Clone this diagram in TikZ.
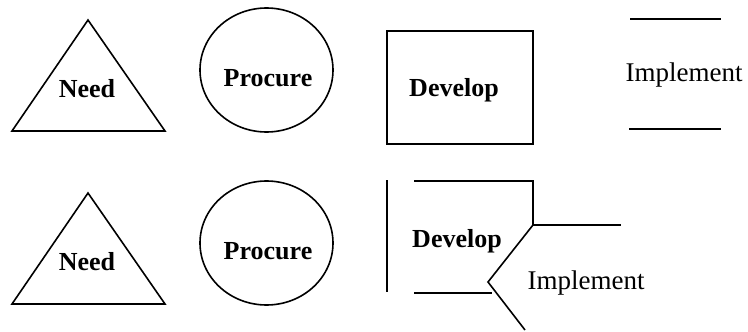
\documentclass[tikz,border=0pt]{standalone}
\usepackage{fontspec}
\setmainfont{Liberation Serif}
\usepackage{tikz}
\usetikzlibrary{shapes,calc}

\begin{document}
\begin{tikzpicture}[x=1pt,y=-1pt]
\tikzset{
	shape line/.style = {draw, line width = 1.6pt},
	thick line/.style = {draw, line width = 2.4pt},
	bold label/.style = {font = \fontsize{26}{30}\selectfont\bfseries, inner sep = 0},
	plain label/.style = {font = \fontsize{27}{31}\selectfont, inner sep = 0},
	oval node/.style = {ellipse, shape line, minimum width = 133, minimum height = 124, inner sep = 0},
}
\useasboundingbox (0,0) rectangle (748,332);

% need and procure, both rows
\foreach \row in {0,1}{
	\pgfmathsetmacro{\dy}{173*\row}
	\coordinate (apex-\row) at (88,20+\dy);
	\coordinate (left-\row) at (12,131+\dy);
	\coordinate (right-\row) at (165,131+\dy);
	\draw[shape line, line join = miter] (apex-\row) -- (right-\row) -- (left-\row) -- cycle;
	\node[bold label] (need-\row) at (87,89+\dy) {Need};
	\node[oval node] (proc-\row) at (266.5,70+\dy) {};
	\node[bold label] (proclbl-\row) at (268,78+\dy) {Procure};
}

% develop and implement, apart
\node[shape line, minimum width = 146, minimum height = 113, inner sep = 0] (dev) at (460,87.5) {};
\node[bold label] (devlbl) at (454,90) {Develop};
\coordinate (imp-a) at (630,19);
\coordinate (imp-b) at (721,19);
\coordinate (imp-c) at (629,129);
\coordinate (imp-d) at (721,129);
\draw[shape line] (imp-a) -- (imp-b);
\draw[thick line] (imp-c) -- (imp-d);
\node[plain label] (implbl) at (684,75) {Implement};

% develop and implement, joined
\coordinate (bar-t) at (387,180);
\coordinate (bar-b) at (387,292);
\coordinate (top-l) at (414,181);
\coordinate (top-r) at (533,181);
\coordinate (joint) at (533,225);
\coordinate (arm) at (621,225);
\coordinate (notch) at (488,282);
\coordinate (tail) at (525,330);
\coordinate (bot-l) at (414,293);
\coordinate (bot-r) at (492,293);
\draw[thick line] (bar-t) -- (bar-b);
\draw[shape line] (top-l) -- (top-r) -- (joint) -- (arm);
\draw[shape line] (joint) -- (notch) -- (tail);
\draw[shape line] (bot-l) -- (bot-r);
\node[bold label] (devlbl2) at (457,241) {Develop};
\node[plain label] (implbl2) at (586,283) {Implement};

\end{tikzpicture}
\end{document}
